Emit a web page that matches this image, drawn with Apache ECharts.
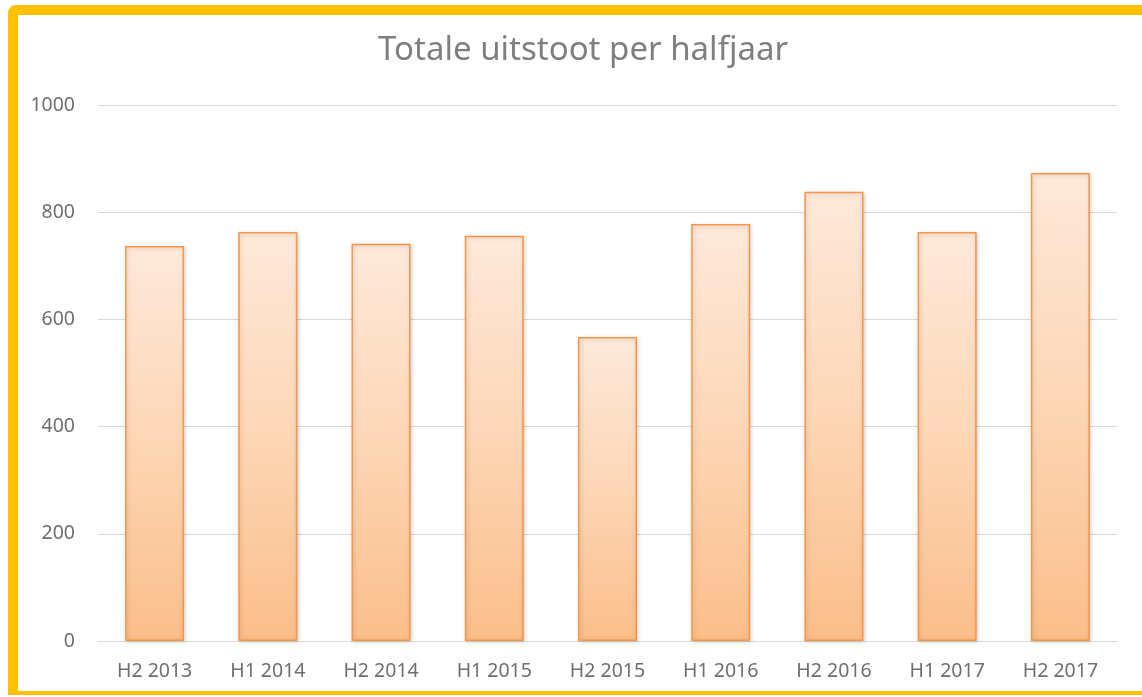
<!DOCTYPE html>
<html>
<head>
<meta charset="utf-8">
<script src="https://cdn.jsdelivr.net/npm/echarts@6/dist/echarts.min.js"></script>
<style>
html,body{margin:0;padding:0;background:#fff;width:1142px;height:697px;overflow:hidden;}
#frame{position:absolute;left:8px;top:5px;width:1140px;height:690px;border:10px solid #FFC000;border-right-width:6px;border-bottom-width:4px;border-radius:8px 0 0 0;box-sizing:border-box;}
#chart{position:absolute;left:0;top:0;width:1142px;height:697px;}
</style>
</head>
<body>
<div id="frame"></div>
<div id="chart"></div>
<script>
const titleText = 'Totale uitstoot per halfjaar';
const categories = ['H2 2013','H1 2014','H2 2014','H1 2015','H2 2015','H1 2016','H2 2016','H1 2017','H2 2017'];
const values = [737, 763, 741, 756, 567, 778, 838, 763, 873];
const yTicks = {min: 0, max: 1000, interval: 200};

const chart = echarts.init(document.getElementById('chart'), null, {renderer: 'canvas'});
chart.setOption({
  animation: false,
  backgroundColor: 'transparent',
  title: {
    text: titleText,
    left: 378,
    top: 34,
    padding: 0,
    textStyle: {fontFamily: 'Noto Sans', fontSize: 33, fontWeight: 'normal', color: '#7f7f7f'}
  },
  grid: {left: 98, right: 25, top: 105, bottom: 56, containLabel: false},
  xAxis: {
    type: 'category',
    data: categories,
    axisLine: {lineStyle: {color: '#d9d9d9', width: 1}},
    axisTick: {show: false},
    axisLabel: {color: '#6f6f6f', fontFamily: 'Noto Sans', fontSize: 19.5, margin: 20}
  },
  yAxis: {
    type: 'value',
    min: yTicks.min, max: yTicks.max, interval: yTicks.interval,
    axisLine: {show: false},
    axisTick: {show: false},
    splitLine: {lineStyle: {color: '#d9d9d9', width: 1}},
    axisLabel: {color: '#6f6f6f', fontFamily: 'Noto Sans', fontSize: 19.5, margin: 23, formatter: function (v) { return String(v); }}
  },
  series: [{
    type: 'bar',
    data: values,
    barWidth: 59,
    itemStyle: {
      color: new echarts.graphic.LinearGradient(0, 0, 0, 1, [
        {offset: 0, color: '#FEE9DA'},
        {offset: 0.5, color: '#FDD6B5'},
        {offset: 1, color: '#FBBE8A'}
      ]),
      borderColor: '#F79646',
      borderWidth: 1.5,
      shadowColor: 'rgba(0,0,0,0.18)',
      shadowBlur: 4,
      shadowOffsetX: 1,
      shadowOffsetY: 1
    }
  }]
});
</script>
</body>
</html>
